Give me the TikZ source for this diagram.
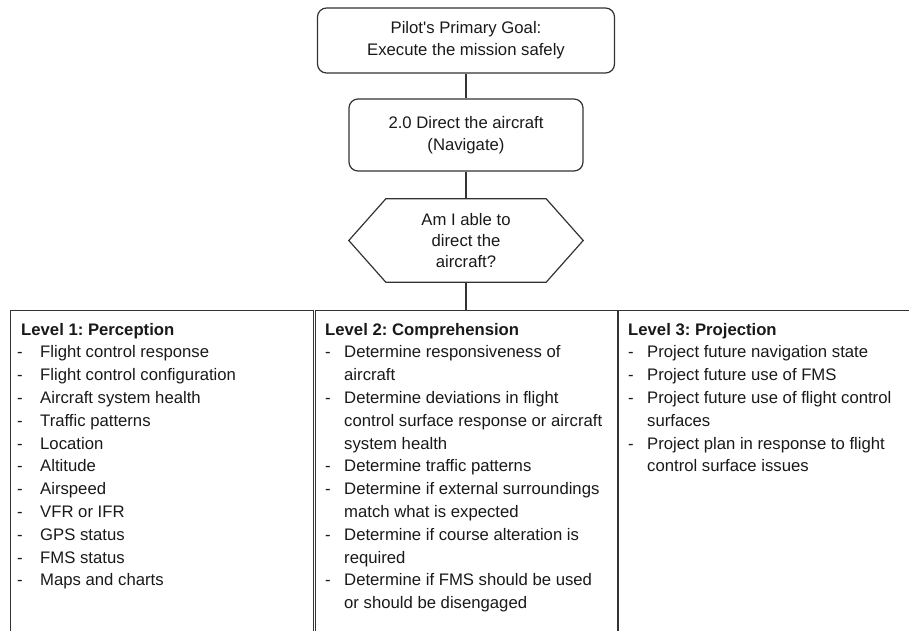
\documentclass[tikz,border=0pt]{standalone}
\usepackage{fontspec}
\setmainfont{Liberation Sans}
\usetikzlibrary{calc}
\frenchspacing

\newlength{\dashw}
\newcommand{\ditem}[1]{\makebox[\dashw][l]{-}#1}
\newcommand{\dcont}[1]{\hspace*{\dashw}#1}
\newcommand{\coltext}[3]{\parbox[t]{300pt}{\fontsize{16.7}{22.8}\selectfont\frenchspacing\setlength{\dashw}{#1}\hspace*{#2}#3}}

\tikzset{
  x=1pt, y=-1pt,
  line/.style={draw=black!80, line width=1.2pt},
  goalbox/.style={line, rounded corners=9pt, align=center, inner sep=0pt,
    font=\fontsize{16.7}{22}\selectfont, text=black!90},
  hexbox/.style={align=center, inner sep=0pt, font=\fontsize{16.7}{21}\selectfont, text=black!90},
  levelbox/.style={line, anchor=north west, inner sep=0pt},
  coltxt/.style={anchor=base west, inner sep=0pt, text=black!90},
}

\begin{document}
\begin{tikzpicture}
\useasboundingbox (0,0) rectangle (909,630);

% goal hierarchy
\node[goalbox, minimum width=297pt, minimum height=65pt] (goal) at (466,40.5)
  {Pilot\textquotesingle s Primary Goal:\\Execute the mission safely};
\node[goalbox, minimum width=234pt, minimum height=72pt] (task) at (466,135)
  {2.0 Direct the aircraft\\(Navigate)};
\node[hexbox, minimum width=234pt, minimum height=83pt] (q) at (466,240.5)
  {Am I able to\\direct the\\aircraft?};
\draw[line] (q.west) -- ([xshift=37pt]q.north west) -- ([xshift=-37pt]q.north east)
  -- (q.east) -- ([xshift=-37pt]q.south east) -- ([xshift=37pt]q.south west) -- cycle;

% situation awareness levels
\node[levelbox, minimum width=303pt, minimum height=330pt] (l1) at (10,310) {};
\node[levelbox, minimum width=302pt, minimum height=330pt] (l2) at (315,310) {};
\node[levelbox, minimum width=300pt, minimum height=330pt] (l3) at (618,310) {};

\draw[line] (goal.south) -- (task.north);
\draw[line] (task.south) -- (q.north);
\draw[line] (q.south) -- (q.south |- l2.north);

\node[coltxt] (t1) at (17,335) {\coltext{23pt}{4pt}{%
  \textbf{Level 1: Perception}\\
  \ditem{Flight control response}\\
  \ditem{Flight control configuration}\\
  \ditem{Aircraft system health}\\
  \ditem{Traffic patterns}\\
  \ditem{Location}\\
  \ditem{Altitude}\\
  \ditem{Airspeed}\\
  \ditem{VFR or IFR}\\
  \ditem{GPS status}\\
  \ditem{FMS status}\\
  \ditem{Maps and charts}}};

\node[coltxt] (t2) at (325,335) {\coltext{19pt}{0pt}{%
  \textbf{Level 2: Comprehension}\\
  \ditem{Determine responsiveness of}\\
  \dcont{aircraft}\\
  \ditem{Determine deviations in flight}\\
  \dcont{control surface response or aircraft}\\
  \dcont{system health}\\
  \ditem{Determine traffic patterns}\\
  \ditem{Determine if external surroundings}\\
  \dcont{match what is expected}\\
  \ditem{Determine if course alteration is}\\
  \dcont{required}\\
  \ditem{Determine if FMS should be used}\\
  \dcont{or should be disengaged}}};

\node[coltxt] (t3) at (628,335) {\coltext{19pt}{0pt}{%
  \textbf{Level 3: Projection}\\
  \ditem{Project future navigation state}\\
  \ditem{Project future use of FMS}\\
  \ditem{Project future use of flight control}\\
  \dcont{surfaces}\\
  \ditem{Project plan in response to flight}\\
  \dcont{control surface issues}}};
\end{tikzpicture}
\end{document}
